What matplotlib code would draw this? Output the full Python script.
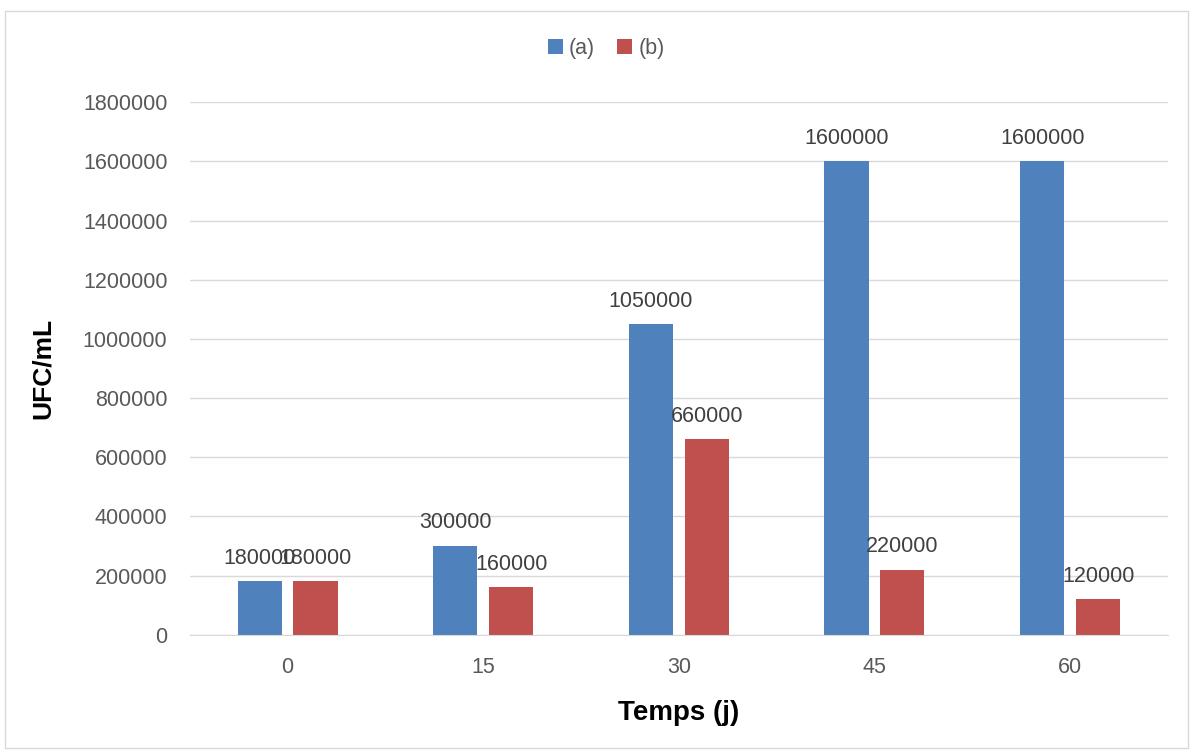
import numpy as np
import matplotlib
matplotlib.use("Agg")
import matplotlib.pyplot as plt
from matplotlib.patches import Rectangle

days = ["0", "15", "30", "45", "60"]
series_a = [180000, 300000, 1050000, 1600000, 1600000]
series_b = [180000, 160000, 660000, 220000, 120000]
yticks = np.arange(0, 1800001, 200000)

blue = "#4f81bd"
red = "#c0504d"
grey_text = "#595959"

plt.rcParams["font.family"] = ["Liberation Sans", "DejaVu Sans"]

fig = plt.figure(figsize=(11.93, 7.52), dpi=100)
ax = fig.add_axes([0.159, 0.156, 0.820, 0.708])

x = np.arange(len(days))
w = 0.225
off = 0.143
bars_a = ax.bar(x - off, series_a, w, color=blue, label="(a)")
bars_b = ax.bar(x + off, series_b, w, color=red, label="(b)")

# value labels above every bar (the two at day 0 collide, as in the original)
for bars, vals in [(bars_a, series_a), (bars_b, series_b)]:
    for b, v in zip(bars, vals):
        ax.annotate(str(v), (b.get_x() + b.get_width() / 2, v),
                    xytext=(0, 9), textcoords="offset points",
                    ha="center", va="bottom", fontsize=15.5, color="#404040")

ax.set_xlim(-0.5, len(days) - 0.5)
ax.set_ylim(0, 1800000)
ax.set_xticks(x)
ax.set_xticklabels(days)
ax.set_yticks(yticks)
ax.set_yticklabels([str(t) for t in yticks])
ax.tick_params(axis="both", length=0, labelsize=15.5, labelcolor=grey_text)
ax.tick_params(axis="y", pad=16)
ax.tick_params(axis="x", pad=16)
ax.yaxis.grid(True, color="#d9d9d9", linewidth=1)
ax.set_axisbelow(True)
for s in ["top", "right", "left"]:
    ax.spines[s].set_visible(False)
ax.spines["bottom"].set_color("#d9d9d9")

ax.set_xlabel("Temps (j)", fontsize=20, fontweight="bold", labelpad=16)
ax.set_ylabel("UFC/mL", fontsize=19, fontweight="bold", labelpad=20)

fig.legend(loc="center", bbox_to_anchor=(0.508, 0.936), ncol=2, frameon=False,
           fontsize=15.5, handlelength=0.7, handleheight=0.7, handletextpad=0.3,
           columnspacing=1.0, labelcolor=grey_text)

fig.patches.append(Rectangle((5 / 1193, 4 / 752), 1183 / 1193, 737 / 752,
                             transform=fig.transFigure, fill=False,
                             edgecolor="#d9d9d9", linewidth=1))

fig.savefig("out.png", dpi=100, facecolor="white")
